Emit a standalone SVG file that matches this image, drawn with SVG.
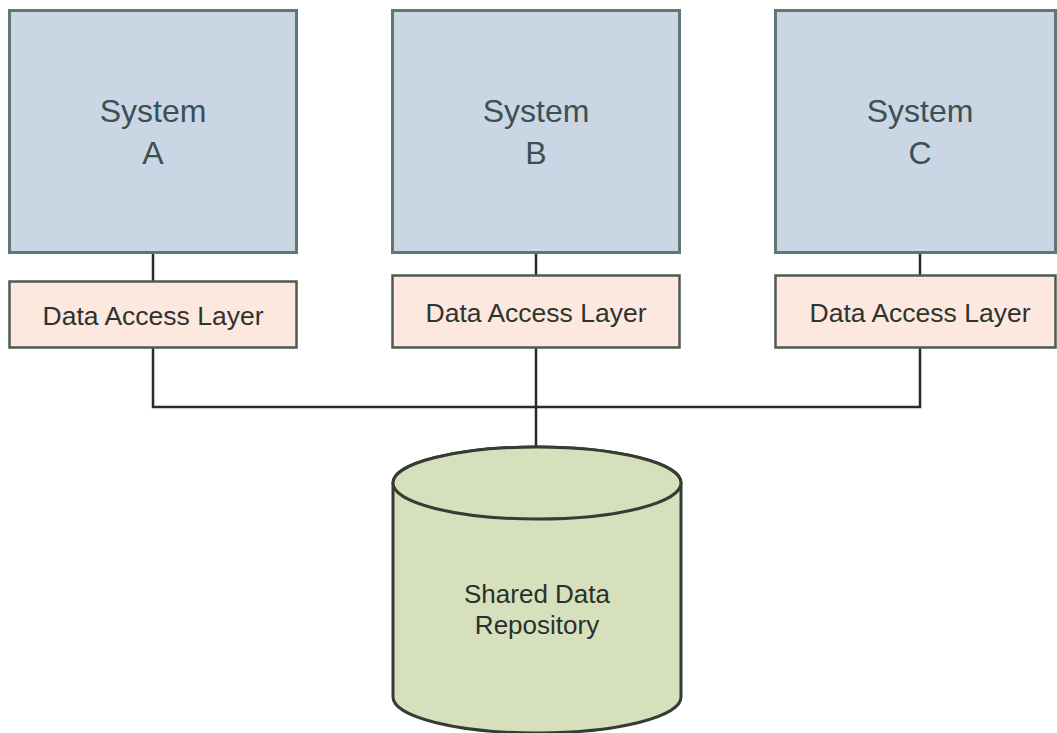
<svg xmlns="http://www.w3.org/2000/svg" width="1057" height="733" viewBox="0 0 1057 733">
  <style>
    .sys { fill: #cbd6e4; stroke: #5f7876; stroke-width: 3; }
    .dal { fill: #fce8de; stroke: #4f5a50; stroke-width: 2.5; }
    .db { fill: #d6e0bd; stroke: #363b33; stroke-width: 3; }
    .wire { fill: none; stroke: #2a2a2a; stroke-width: 2.5; }
    .sysText { font-family: "Liberation Sans", Arial, sans-serif; font-size: 32px; fill: #3b5055; text-anchor: middle; }
    .dalText { font-family: "Liberation Sans", Arial, sans-serif; font-size: 26.5px; fill: #2e332e; text-anchor: middle; }
    .dbText { font-family: "Liberation Sans", Arial, sans-serif; font-size: 26px; fill: #2b302a; text-anchor: middle; }
  </style>
  <rect width="1057" height="733" fill="#ffffff"/>

  <!-- connectors -->
  <g id="connectors">
    <line class="wire" x1="153" y1="253" x2="153" y2="281"/>
    <line class="wire" x1="536" y1="253" x2="536" y2="275"/>
    <line class="wire" x1="920" y1="253" x2="920" y2="275"/>
    <polyline class="wire" points="153,348 153,407 920,407 920,348"/>
    <line class="wire" x1="536" y1="348" x2="536" y2="449"/>
  </g>

  <!-- systems -->
  <g id="system-a">
    <rect class="sys" x="9.5" y="10.5" width="287" height="242"/>
    <text class="sysText" x="153" y="122">System</text>
    <text class="sysText" x="153" y="164">A</text>
  </g>
  <g id="system-b">
    <rect class="sys" x="392.5" y="10.5" width="287" height="242"/>
    <text class="sysText" x="536" y="122">System</text>
    <text class="sysText" x="536" y="164">B</text>
  </g>
  <g id="system-c">
    <rect class="sys" x="775.5" y="10.5" width="280" height="242"/>
    <text class="sysText" x="920" y="122">System</text>
    <text class="sysText" x="920" y="164">C</text>
  </g>

  <!-- data access layers -->
  <g id="dal-a">
    <rect class="dal" x="9.5" y="281.5" width="287" height="66"/>
    <text class="dalText" x="153" y="325">Data Access Layer</text>
  </g>
  <g id="dal-b">
    <rect class="dal" x="392.5" y="275.5" width="287" height="72"/>
    <text class="dalText" x="536" y="322">Data Access Layer</text>
  </g>
  <g id="dal-c">
    <rect class="dal" x="775.5" y="275.5" width="280" height="72"/>
    <text class="dalText" x="920" y="322">Data Access Layer</text>
  </g>

  <!-- shared repository cylinder -->
  <g id="repository">
    <path class="db" d="M393,483 L393,697 A144,36 0 0 0 681,697 L681,483 A144,36 0 0 0 393,483 Z"/>
    <ellipse class="db" cx="537" cy="483" rx="144" ry="36"/>
    <text class="dbText" x="537" y="603">Shared Data</text>
    <text class="dbText" x="537" y="634">Repository</text>
  </g>
</svg>
